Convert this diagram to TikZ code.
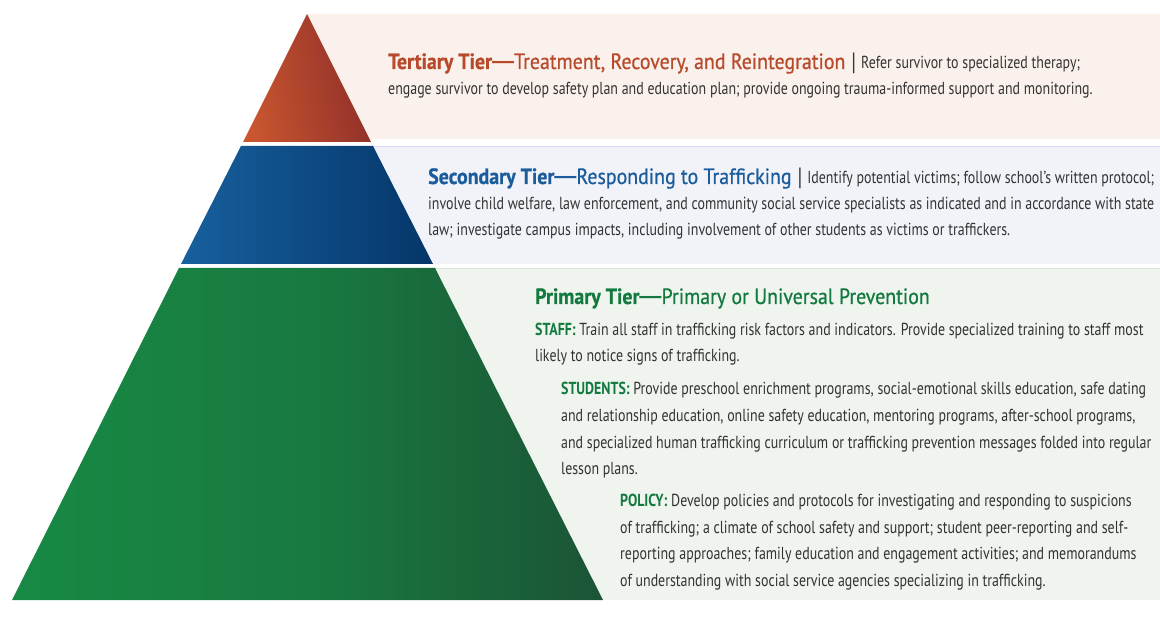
\documentclass[tikz,border=0pt]{standalone}
\usepackage{fontspec}
\setmainfont{PT Sans}[FakeStretch=0.8]
\newfontfamily\titlefont{PT Sans}[FakeStretch=0.9, FakeBold=0.6]
\newfontfamily\dashfont{Liberation Sans}
\definecolor{terBg}{HTML}{FAF1EC}
\definecolor{secBg}{HTML}{F1F3F9}
\definecolor{priBg}{HTML}{EFF4EE}
\definecolor{terA}{HTML}{C9562F}
\definecolor{terB}{HTML}{8E2E2A}
\definecolor{secA}{HTML}{17609E}
\definecolor{secB}{HTML}{053669}
\definecolor{priA}{HTML}{178A44}
\definecolor{priB}{HTML}{1B5436}
\definecolor{terT}{HTML}{B84A2C}
\definecolor{secT}{HTML}{1B5C9C}
\definecolor{priT}{HTML}{137A3F}
\definecolor{bodyT}{HTML}{333333}
\tikzset{
  line/.style={anchor=base west, inner sep=0pt, text=bodyT, font=\fontsize{17.4}{20}\selectfont},
}
\newcommand{\ttl}[1]{\fontsize{22.1}{25}\titlefont #1}
\newcommand{\mdash}{{\dashfont\bfseries —}}
\newcommand{\sepbar}{\hspace{6pt}\raisebox{-1.5pt}{\fontsize{25}{25}\selectfont\textbar}\hspace{5pt}}
\begin{document}
\begin{tikzpicture}[x=1pt,y=-1pt]
\useasboundingbox (0,0) rectangle (1160,628);
% bands
\fill[terBg] (307,14) rectangle (1160,139);
\draw[terBg!70!orange!30, line width=0.6pt] (307,14) -- (1160,14);
\fill[secBg] (373,146) rectangle (1160,264);
\draw[blue!15, line width=0.8pt] (373,146) -- (1160,146);
\fill[priBg] (435,268) rectangle (1160,600);
\draw[green!12!gray!25, line width=0.8pt] (435,268) -- (1160,268);
% pyramid
\shade[left color=terA, right color=terB, shading angle=100] (307,14) -- (371,142) -- (243,142) -- cycle;
\shade[left color=secA, right color=secB] (241,146) -- (373,146) -- (433,264) -- (181,264) -- cycle;
\shade[left color=priA, right color=priB, middle color=priA!70!priB] (179,268) -- (435,268) -- (603,600) -- (12,600) -- cycle;
% tertiary
\node[line] (t1) at (388,69) {{\ttl{\color{terT}\textbf{Tertiary Tier\mdash}Treatment, Recovery, and Reintegration}}\sepbar Refer survivor to specialized therapy;};
\node[line] (t2) at (388,95) {engage survivor to develop safety plan and education plan; provide ongoing trauma-informed support and monitoring.};
% secondary
\node[line] (s1) at (428,184) {{\ttl{\color{secT}\textbf{Secondary Tier\mdash}Responding to Trafficking}}\sepbar Identify potential victims; follow school’s written protocol;};
\node[line] (s2) at (428,210) {involve child welfare, law enforcement, and community social service specialists as indicated and in accordance with state};
\node[line] (s3) at (428,236) {law; investigate campus impacts, including involvement of other students as victims or traffickers.};
% primary
\node[line] (p0) at (535,304) {\ttl{\color{priT}\textbf{Primary Tier\mdash}Primary or Universal Prevention}};
\node[line] (p1) at (535,336) {{\color{priT}\textbf{STAFF:}} Train all staff in trafficking risk factors and indicators. Provide specialized training to staff most};
\node[line] (p2) at (535,362) {likely to notice signs of trafficking.};
\node[line] (p3) at (561,395) {{\color{priT}\textbf{STUDENTS:}} Provide preschool enrichment programs, social-emotional skills education, safe dating};
\node[line] (p4) at (561,421) {and relationship education, online safety education, mentoring programs, after-school programs,};
\node[line] (p5) at (561,448) {and specialized human trafficking curriculum or trafficking prevention messages folded into regular};
\node[line] (p6) at (561,474) {lesson plans.};
\node[line] (p7) at (620,506) {{\color{priT}\textbf{POLICY:}} Develop policies and protocols for investigating and responding to suspicions};
\node[line] (p8) at (620,533) {of trafficking; a climate of school safety and support; student peer-reporting and self-};
\node[line] (p9) at (620,559) {reporting approaches; family education and engagement activities; and memorandums};
\node[line] (p10) at (620,586) {of understanding with social service agencies specializing in trafficking.};
\end{tikzpicture}
\end{document}
